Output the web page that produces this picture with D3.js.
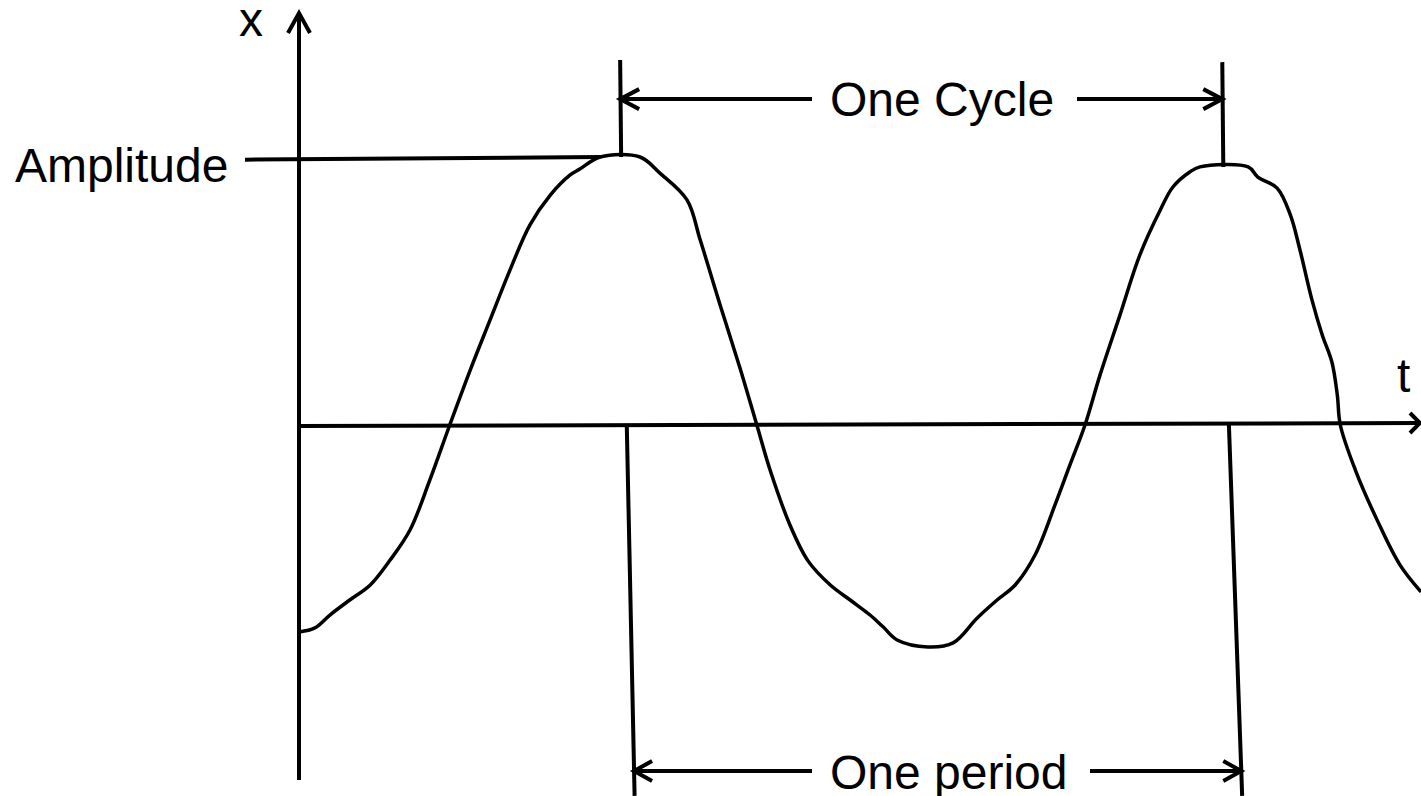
<!DOCTYPE html>
<html>
<head>
<meta charset="utf-8">
<script src="https://cdn.jsdelivr.net/npm/d3@7"></script>
<style>
  body { margin: 0; background: #fff; }
  svg { display: block; }
  text { font-family: "Liberation Sans", Arial, sans-serif; font-size: 48px; fill: #000; }
</style>
</head>
<body>
<svg id="chart"></svg>
<script>
// Displacement x(t), hand-drawn wave. t: one period = 100 units, x: amplitude = 100 units
const tValues = [0.2, 2.8, 5.3, 8.6, 12.0, 15.3, 18.6, 21.9, 25.2, 28.6, 31.9, 35.2, 38.5, 41.9, 45.2, 46.8, 50.2,
  56.8, 60.1, 64.6, 66.8, 70.1, 73.4, 76.2, 78.4, 81.7, 84.7, 88.4, 91.7, 95.0, 97.2, 99.5, 104.6, 108.8,
  112.8, 116.1, 119.1, 122.4, 125.7, 128.2, 130.7, 133.2, 136.5, 139.8, 143.2, 145.3, 148.1, 149.8,
  157.8, 159.4, 162.6, 164.8, 166.4, 168.4, 170.1, 171.7, 172.6, 173.1, 175.6, 179.2, 183.0, 186.5];
const xValues = [-77.2, -75.7, -70.9, -65.3, -59.7, -50.4, -39.2, -20.5, 0, 20.5, 39.2, 57.8, 74.6, 85.8, 93.3, 95.5, 100,
  100, 94.0, 84.0, 69.0, 44.8, 21.3, 0, -16.8, -37.3, -50.7, -59.7, -65.3, -70.9, -75.4, -80.2, -82.8, -81.3,
  -72.0, -65.3, -59.7, -48.5, -29.9, -14.9, 0, 18.7, 41.0, 63.4, 80.2, 88.8, 94.4, 96.3,
  96.3, 92.5, 88.4, 78.4, 65.3, 46.6, 33.6, 23.5, 11.2, 0, -16.8, -35.4, -52.2, -62.3];

// annotation positions (data units)
const axisTMax = 186.5;
const axisXRange = [-132.5, 153.7];
const amplitudeStartT = -8.8;
const cycleTicks = [{t: 53.5, top: 136.2, bottom: 100}, {t: 153.5, top: 135.4, bottom: 96.3}];
const cycleArrowX = 121.6;
const periodTicks = [{tTop: 54.6, tBottom: 55.9}, {tTop: 154.6, tBottom: 156.8}];
const periodBottom = -138.4;
const periodArrowX = -129.1;

const width = 1421, height = 796;
const svg = d3.select('#chart').attr('width', width).attr('height', height);

const tScale = d3.scaleLinear().domain([0, axisTMax]).range([298, 1421]);
const xScale = d3.scaleLinear().domain([0, 100]).range([425, 157]);

const g = svg.append('g')
  .attr('fill', 'none')
  .attr('stroke', '#000')
  .attr('stroke-width', 4);

function seg(x1, y1, x2, y2) {
  g.append('line').attr('x1', x1).attr('y1', y1).attr('x2', x2).attr('y2', y2);
}
// open V arrowhead, dir = unit vector pointing toward the tip
function head(tx, ty, dx, dy, len, half) {
  const bx = tx - dx * len, by = ty - dy * len;
  g.append('polyline')
    .attr('stroke-linejoin', 'miter')
    .attr('points', [[bx - dy * half, by + dx * half], [tx, ty], [bx + dy * half, by - dx * half]].map(p => p.join(',')).join(' '));
}

// axes
const x0 = tScale(0);
seg(x0 + 1, xScale(axisXRange[0]), x0 + 1, xScale(axisXRange[1]));
head(x0 + 1, xScale(axisXRange[1]), 0, -1, 20, 11);
seg(x0, xScale(0) + 1, tScale(axisTMax) - 1, xScale(0) - 2);
head(tScale(axisTMax) - 1, xScale(0) - 2, 1, 0, 10, 10);

// amplitude line
seg(tScale(amplitudeStartT), xScale(99), tScale(50.2), xScale(100));

// cycle ticks and arrows
cycleTicks.forEach(c => seg(tScale(c.t), xScale(c.top), tScale(c.t) + 1, xScale(c.bottom)));
const cy = xScale(cycleArrowX);
seg(tScale(cycleTicks[0].t), cy, 812, cy);
head(tScale(cycleTicks[0].t), cy, -1, 0, 19, 10);
seg(1077, cy, tScale(cycleTicks[1].t), cy);
head(tScale(cycleTicks[1].t), cy, 1, 0, 19, 10);

// period ticks and arrows
const pTop = xScale(0), pBot = xScale(periodBottom), py = xScale(periodArrowX);
periodTicks.forEach(p => seg(tScale(p.tTop), pTop, tScale(p.tBottom), pBot));
const atArrow = p => tScale(p.tTop) + (tScale(p.tBottom) - tScale(p.tTop)) * (py - pTop) / (pBot - pTop);
const pl = atArrow(periodTicks[0]), pr = atArrow(periodTicks[1]);
seg(pl, py, 812, py);
head(pl, py, -1, 0, 18, 10);
seg(1090, py, pr, py);
head(pr, py, 1, 0, 18, 10);

// wave
const wave = tValues.map((t, i) => [t, xValues[i]]);
g.append('path')
  .datum(wave)
  .attr('stroke-width', 3.5)
  .attr('stroke-linejoin', 'round')
  .attr('d', d3.line().x(d => tScale(d[0])).y(d => xScale(d[1])).curve(d3.curveCatmullRom.alpha(0.5)));

// labels
svg.append('text').attr('x', 239).attr('y', 36).text('x');
svg.append('text').attr('x', 1397).attr('y', 392).text('t');
svg.append('text').attr('x', 15).attr('y', 182).text('Amplitude');
svg.append('text').attr('x', 830).attr('y', 116).text('One Cycle');
svg.append('text').attr('x', 830).attr('y', 789).text('One period');
</script>
</body>
</html>
